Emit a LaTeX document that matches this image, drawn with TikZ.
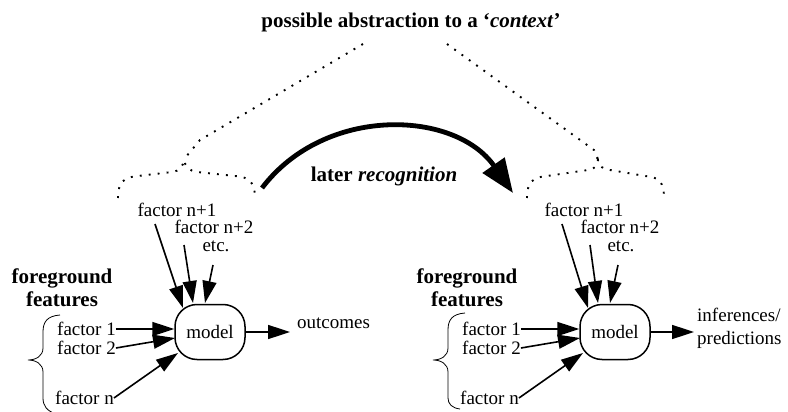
\documentclass[tikz,border=0pt]{standalone}
\usepackage{fontspec}
\setmainfont{Liberation Serif}
\usetikzlibrary{arrows.meta}
\begin{document}
\begin{tikzpicture}[x=1pt,y=-1pt,
  txt/.style={inner sep=0pt, font=\fontsize{19}{21}\selectfont},
  bld/.style={inner sep=0pt, align=center, font=\fontsize{21}{23}\selectfont\bfseries},
  arr/.style={line width=1.6pt, -{Triangle[length=22pt,width=14pt]}},
  bigarr/.style={line width=4.8pt, -{Triangle[length=34pt,width=26pt]}},
  dots/.style={line width=1.9pt, dash pattern=on 1.9pt off 7.1pt},
  brace/.style={line width=0.8pt},
  modelbox/.style={draw, line width=1.5pt, rounded corners=22pt, minimum width=70pt, minimum height=55pt, inner sep=0pt, font=\fontsize{19}{21}\selectfont}
]
\useasboundingbox (0,0) rectangle (788,412);

% title
\node[bld] (title) at (411,22) {possible abstraction to a `\textit{context}'};

% top dotted lines and dotted braces
\draw[dots] (363,44) -- (200,140) -- (185,158);
\draw[dots] (447,44) -- (594,150) -- (598,160);
\draw[dots] (118,198) .. controls (118,182) and (124,177) .. (138,176) -- (172,172) .. controls (180,171) and (183,166) .. (184,160) .. controls (185,166) and (189,171) .. (197,172) -- (235,176) .. controls (250,177) and (255,183) .. (255,198);
\draw[dots] (527,198) .. controls (527,182) and (533,177) .. (547,176) -- (588,170) .. controls (595,169) and (597,166) .. (598,160) .. controls (599,166) and (602,169) .. (610,170) -- (645,176) .. controls (659,177) and (664,182) .. (664,198);

% later recognition
\coordinate (recA) at (262,188);
\coordinate (recB) at (513,193);
\draw[bigarr] (recA) .. controls (325,105) and (455,110) .. (recB);
\node[bld] (rec) at (384,176) {later \textit{recognition}};

% ===== left group =====
\node[txt] (Ln1) at (177,210) {factor n+1};
\node[txt] (Ln2) at (214,227) {factor n+2};
\node[txt] (Letc) at (216,246) {etc.};
\node[bld] (Lfg) at (62,288) {foreground\\features};
\node[txt, anchor=west] (Lf1) at (57,329) {factor 1};
\node[txt, anchor=west] (Lf2) at (57,348) {factor 2};
\node[txt, anchor=west] (Lfn) at (55,398) {factor n};
\node[modelbox] (Lmodel) at (210,332) {model};
\node[txt, anchor=west] (Lout) at (297,323) {outcomes};
\draw[brace] (60,315) .. controls (47,316) and (43,322) .. (43,332) -- (43,348) .. controls (43,356) and (36,360) .. (28,360) .. controls (36,360) and (43,364) .. (43,372) -- (43,398) .. controls (43,406) and (47,411) .. (56,414);
\draw[arr] (Lf1.east) -- (Lf1.east -| Lmodel.west);
\draw[arr] (Lf2.east) -- ([shift={(-35,6)}]Lmodel.center);
\draw[arr] (Lfn.east) -- ([shift={(-32,21)}]Lmodel.center);
\draw[arr] ([shift={(-22,14)}]Ln1.center) -- ([shift={(-27,-24)}]Lmodel.center);
\draw[arr] ([shift={(-30,18)}]Ln2.center) -- ([shift={(-17,-29)}]Lmodel.center);
\draw[arr] ([shift={(-3,19)}]Letc.center) -- ([shift={(-5,-29)}]Lmodel.center);
\draw[arr] (Lmodel.east) -- ([xshift=-7pt]Lout.west |- Lmodel.east);

% ===== right group =====
\node[txt] (Rn1) at (584,210) {factor n+1};
\node[txt] (Rn2) at (620,227) {factor n+2};
\node[txt] (Retc) at (621,246) {etc.};
\node[bld] (Rfg) at (467,288) {foreground\\features};
\node[txt, anchor=west] (Rf1) at (462,329) {factor 1};
\node[txt, anchor=west] (Rf2) at (462,348) {factor 2};
\node[txt, anchor=west] (Rfn) at (460,398) {factor n};
\node[modelbox] (Rmodel) at (615,332) {model};
\node[txt, anchor=west, align=left, font=\fontsize{19}{23}\selectfont] (Rout) at (697,328) {inferences/\\predictions};
\draw[brace] (465,313) .. controls (452,314) and (448,320) .. (448,330) -- (448,348) .. controls (448,356) and (441,360) .. (433,360) .. controls (441,360) and (448,364) .. (448,372) -- (448,398) .. controls (448,404) and (452,408) .. (460,409);
\draw[arr] (Rf1.east) -- (Rf1.east -| Rmodel.west);
\draw[arr] (Rf2.east) -- ([shift={(-35,6)}]Rmodel.center);
\draw[arr] (Rfn.east) -- ([shift={(-32,21)}]Rmodel.center);
\draw[arr] ([shift={(-22,14)}]Rn1.center) -- ([shift={(-27,-24)}]Rmodel.center);
\draw[arr] ([shift={(-30,18)}]Rn2.center) -- ([shift={(-17,-29)}]Rmodel.center);
\draw[arr] ([shift={(-3,19)}]Retc.center) -- ([shift={(-5,-29)}]Rmodel.center);
\draw[arr] (Rmodel.east) -- ([xshift=-3pt]Rout.west |- Rmodel.east);
\end{tikzpicture}
\end{document}
